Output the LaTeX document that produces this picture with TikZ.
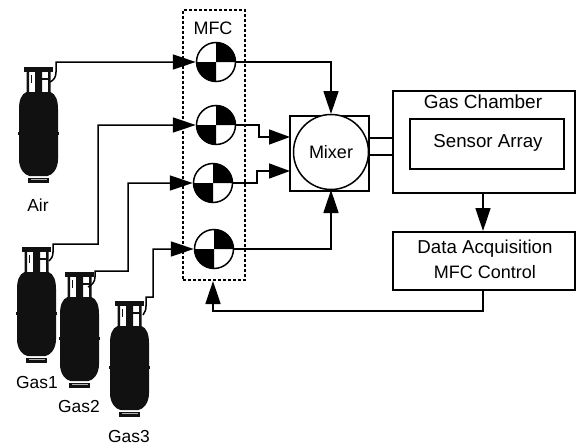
\documentclass[tikz,border=0pt]{standalone}
\usepackage{fontspec}
\setmainfont{Liberation Sans}
\usetikzlibrary{arrows.meta}
\definecolor{tankblack}{HTML}{111111}
\tikzset{
  x=1pt,y=-1pt,
  every node/.style={font=\fontsize{18}{22}\selectfont,inner sep=0pt},
  wide/.style={font=\fontsize{18.7}{22}\selectfont},
  gaslabel/.style={font=\fontsize{17.4}{22}\selectfont},
  wire/.style={line width=1.5pt,line join=miter},
  flow/.style={wire,-{Triangle[length=23pt,width=15pt]}},
  boxnode/.style={draw,line width=1.5pt,rectangle,anchor=north west},
  valvenode/.style={draw,line width=1.5pt,circle,minimum size=39pt},
  tank/.pic={
    \fill[tankblack] (-14.5,0) rectangle (14.5,5);
    \fill[tankblack] (-12,5) rectangle (-9.5,26) (9.5,5) rectangle (12,26) (-3.5,5) rectangle (3.5,26);
    \fill[tankblack] (-7.5,8) rectangle (-6.5,16);
    \fill[tankblack] (3.5,10.5) rectangle (9,13);
    \fill[tankblack] (-12,25) .. controls (-17,27) and (-19.5,33) .. (-19.5,42)
      -- (-19.5,92) .. controls (-19.5,102) and (-14,108) .. (-9,109)
      -- (9,109) .. controls (14,108) and (19.5,102) .. (19.5,92)
      -- (19.5,42) .. controls (19.5,33) and (17,27) .. (12,25) -- cycle;
    \fill[tankblack] (-20.5,65) rectangle (20.5,67.5);
    \fill[tankblack] (-10.5,110.5) rectangle (10.5,115.5);
    \fill[white!70!black] (-8,111.5) rectangle (8,112.2);
  }
}
\begin{document}
\begin{tikzpicture}
\useasboundingbox (0,0) rectangle (576,447);
% tanks
\pic at (38.5,67) {tank};
\pic at (36.5,247) {tank};
\pic at (79.5,272) {tank};
\pic at (129.5,301) {tank};
% tank outlets
\coordinate (tapair) at (50,82);
\coordinate (tapone) at (49,261);
\coordinate (taptwo) at (88,287);
\coordinate (tapthree) at (143,315);
% MFC box
\node[draw,dash pattern=on 3pt off 2pt,line width=1.7pt,rectangle,anchor=north west,minimum width=62pt,minimum height=270pt] (mfcbox) at (182,9) {};
\node (mfclabel) at (213,28) {MFC};
% valves
\foreach \n/\cx/\cy in {vone/216/62,vtwo/216/125,vthree/213/183,vfour/214/249}{
  \fill (\cx,\cy) -- (\cx-19.5,\cy) arc[start angle=180,end angle=90,radius=19.5] -- cycle;
  \fill (\cx,\cy) -- (\cx+19.5,\cy) arc[start angle=0,end angle=-90,radius=19.5] -- cycle;
  \node[valvenode] (\n) at (\cx,\cy) {};
}
% mixer
\node[boxnode,minimum width=79pt,minimum height=75pt] (mbox) at (289,115) {};
\node[draw,fill=white,line width=1.5pt,circle,minimum size=75pt] (mixer) at (331,152) {Mixer};
% chamber
\node[boxnode,minimum width=182pt,minimum height=102pt] (chamber) at (392,90) {};
\node[font=\fontsize{19}{22}\selectfont] (chamberlabel) at (483,102) {Gas Chamber};
\node[boxnode,minimum width=154pt,minimum height=50pt] (sensor) at (409,118) {};
\node[wide] (sensorlabel) at (488,143) {Sensor Array};
\node[boxnode,minimum width=182pt,minimum height=58pt] (daq) at (392,231) {};
\node[wide] (daqa) at (485,249) {Data Acquisition};
\node (daqb) at (485,272) {MFC Control};
% labels
\node[gaslabel] (lair) at (38,205) {Air};
\node[gaslabel] (lone) at (37,383) {Gas1};
\node[gaslabel] (ltwo) at (79,407) {Gas2};
\node[gaslabel] (lthree) at (129,437) {Gas3};
% gas lines
\draw[flow] (tapair) .. controls (54,80) and (56,77) .. (56,72) -- (56,62) -- (vone.west);
\draw[flow] (tapone) .. controls (51,259) and (53,257) .. (53,252) -- (53,244) -- (98,244) -- (98,125) -- (vtwo.west);
\draw[flow] (taptwo) .. controls (92,285) and (95,282) .. (95,277) -- (95,271) -- (128,271) -- (128,183) -- (vthree.west);
\draw[flow] (tapthree) .. controls (145,312) and (146,310) .. (146,306) -- (146,297) -- (153,297) -- (153,249) -- (vfour.west);
% valve outputs
\coordinate (mixtop) at (331,114);
\coordinate (mixbot) at (331,190);
\coordinate (mixa) at (290,137);
\coordinate (mixb) at (290,171);
\draw[flow] (vone.east) -- (331,62) -- (mixtop);
\draw[flow,-{Triangle[length=21pt,width=15pt]}] (vtwo.east) -- (259,125) -- (259,137) -- (mixa);
\draw[flow,-{Triangle[length=21pt,width=15pt]}] (vthree.east) -- (257,183) -- (257,171) -- (mixb);
\draw[flow] (vfour.east) -- (331,249) -- (mixbot);
% mixer to chamber
\coordinate (cha) at (392,138);
\coordinate (chb) at (392,155);
\draw[wire] (369,138) -- (cha);
\draw[wire] (368,155) -- (chb);
% chamber to daq to mfc
\coordinate (chs) at (483,192);
\coordinate (daqn) at (483,231);
\coordinate (daqs) at (483,289);
\coordinate (mfcs) at (213,281);
\draw[flow] (chs) -- (daqn);
\draw[flow] (daqs) -- (483,311) -- (213,311) -- (mfcs);
\end{tikzpicture}
\end{document}
